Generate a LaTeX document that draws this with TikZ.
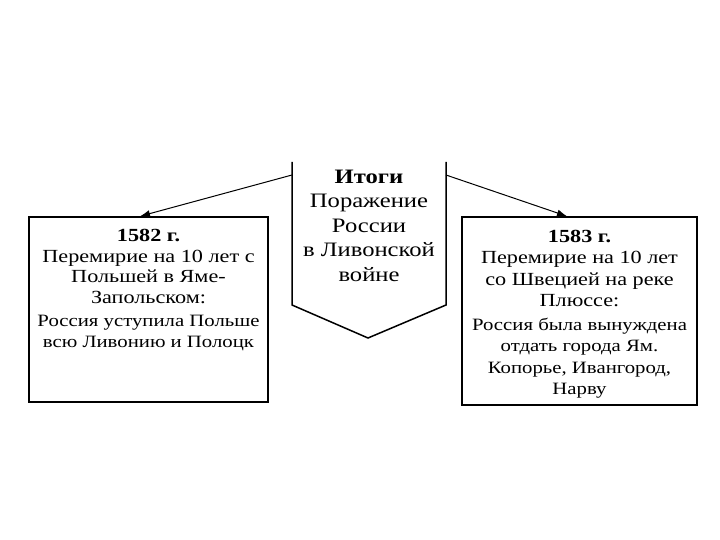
\documentclass[tikz,border=0pt]{standalone}
\usepackage{fontspec}
\setmainfont{Liberation Serif}[FakeStretch=1.2]
\usetikzlibrary{arrows.meta}
\newcommand{\smallline}{\fontsize{17.3}{20.5}\selectfont}
\begin{document}
\begin{tikzpicture}[x=1pt,y=-1pt,
  frame/.style={draw,line width=1.5pt},
  txt/.style={align=center,inner sep=0pt,anchor=north},
  arr/.style={-{Latex[length=10pt,width=7pt]},line width=1pt}]
\useasboundingbox (0,0) rectangle (720,540);
% central shape
\draw[frame] (292,162) -- (292,305) -- (368,338) -- (446,305) -- (446,162);
\node[txt,font=\fontsize{20.5}{24.5}\selectfont] (center) at (369,169.5) {\textbf{Итоги}\\Поражение\\России\\в Ливонской\\войне};
\coordinate (lstart) at (292,175);
\coordinate (rstart) at (446,175);
% boxes
\node[frame,minimum width=239pt,minimum height=185pt,inner sep=0pt] (left) at (148.5,309.5) {};
\node[frame,minimum width=235pt,minimum height=188pt,inner sep=0pt] (right) at (579.5,311) {};
\node[txt,font=\fontsize{18.5}{20.5}\selectfont] (ltext) at (148.5,229) {\textbf{1582 г.}\\Перемирие на 10 лет с\\Польшей в Яме-\\Запольском:\\[3pt]\smallline Россия уступила Польше\\\smallline всю Ливонию и Полоцк};
\node[txt,font=\fontsize{18.5}{21.5}\selectfont] (rtext) at (579.5,229.5) {\textbf{1583 г.}\\Перемирие на 10 лет\\со Швецией на реке\\Плюссе:\\[2pt]\smallline Россия была вынуждена\\\smallline отдать города Ям.\\\smallline Копорье, Ивангород,\\\smallline Нарву};
\draw[arr] (lstart) -- ([xshift=-8.5pt]left.north);
\draw[arr] (rstart) -- ([xshift=-12.5pt]right.north);
\end{tikzpicture}
\end{document}
